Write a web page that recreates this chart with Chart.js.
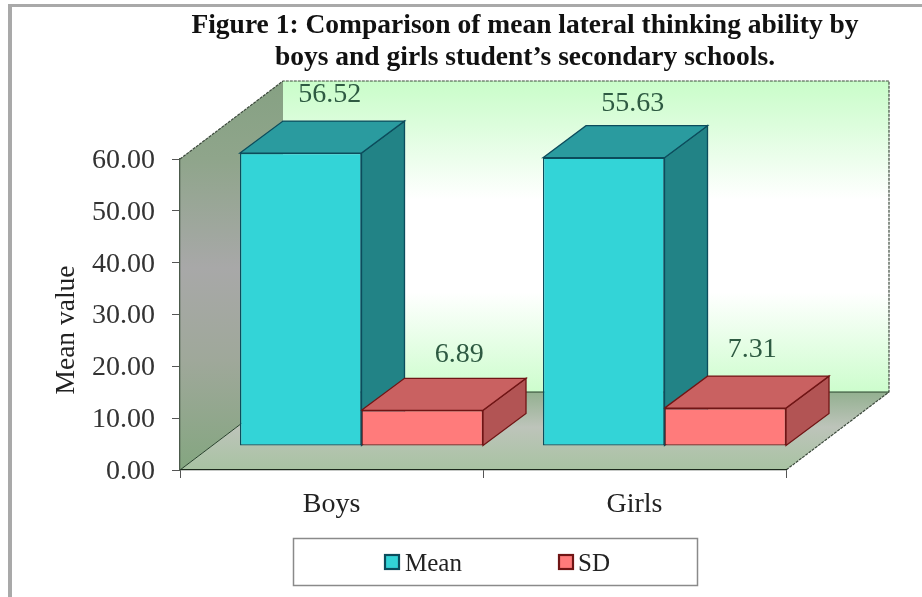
<!DOCTYPE html>
<html>
<head>
<meta charset="utf-8">
<style>
html,body{margin:0;padding:0;background:#fff;}
#wrap{position:absolute;left:0;top:0;width:922px;height:597px;}
canvas{filter:blur(0.5px);display:block;}
</style>
<script src="https://cdn.jsdelivr.net/npm/chart.js@4"></script>
</head>
<body>
<div id="wrap"><canvas id="c" width="922" height="597"></canvas></div>
<script>
const categories = ['Boys', 'Girls'];
const meanValues = [56.52, 55.63];
const sdValues = [6.89, 7.31];
const yTicks = [0, 10, 20, 30, 40, 50, 60];
const titleLines = ['Figure 1: Comparison of mean lateral thinking ability by', 'boys and girls student\u2019s secondary schools.'];
const yAxisTitle = 'Mean value';

const SERIF = '"Liberation Serif","Times New Roman",serif';
const FLOOR_DX = 103, FLOOR_DY = -78;   // depth of the walls
const BAR_SHIFT_X = 30, BAR_SHIFT_Y = -24; // bars stand inside the floor
const BAR_DX = 43, BAR_DY = -32;        // depth of each bar
const labelNudges = [[[29,-58],[29,-54]],[[37,-56],[27,-58]]];

const palette = [
  {front:'#33d4d7', top:'#2a9b9f', side:'#228386', line:'#0c4c5c'},
  {front:'#ff7b7b', top:'#c96161', side:'#b25454', line:'#701515'}
];

function poly(ctx, pts, fill, stroke, w, dash){
  ctx.beginPath();
  pts.forEach((p,i)=> i?ctx.lineTo(p[0],p[1]):ctx.moveTo(p[0],p[1]));
  ctx.closePath();
  if(fill){ctx.fillStyle=fill;ctx.fill();}
  if(stroke){ctx.strokeStyle=stroke;ctx.lineWidth=w||1;ctx.setLineDash(dash||[]);ctx.stroke();ctx.setLineDash([]);}
}

const scene3d = {
  id:'scene3d',
  beforeDraw(chart){
    const ctx=chart.ctx, a=chart.chartArea;
    const L=a.left,R=a.right,T=a.top,B=a.bottom;
    ctx.save();
    // picture frame
    ctx.fillStyle='#a9a9a9';
    ctx.fillRect(8,4,914,3);
    ctx.fillRect(8,4,4,593);
    // back wall
    let g=ctx.createLinearGradient(0,T+FLOOR_DY,0,B+FLOOR_DY);
    g.addColorStop(0,'#c9fdc9');g.addColorStop(0.14,'#dcfddc');g.addColorStop(0.38,'#ffffff');
    g.addColorStop(0.68,'#ffffff');g.addColorStop(1,'#cdfdcd');
    poly(ctx,[[L+FLOOR_DX,T+FLOOR_DY],[R+FLOOR_DX,T+FLOOR_DY],[R+FLOOR_DX,B+FLOOR_DY],[L+FLOOR_DX,B+FLOOR_DY]],g);
    // side wall
    g=ctx.createLinearGradient(0,T+FLOOR_DY,0,B);
    g.addColorStop(0,'#86a183');g.addColorStop(0.2,'#8fa58b');g.addColorStop(0.48,'#a8a8a8');
    g.addColorStop(0.72,'#9fa89a');g.addColorStop(1,'#84a680');
    poly(ctx,[[L,T],[L+FLOOR_DX,T+FLOOR_DY],[L+FLOOR_DX,B+FLOOR_DY],[L,B]],g);
    // floor
    let gf=ctx.createLinearGradient(0,B+FLOOR_DY,0,B);
    gf.addColorStop(0,'#93b090');gf.addColorStop(0.45,'#bdc4ba');gf.addColorStop(1,'#a8c3a2');
    poly(ctx,[[L,B],[R,B],[R+FLOOR_DX,B+FLOOR_DY],[L+FLOOR_DX,B+FLOOR_DY]],gf);
    // edges
    ctx.strokeStyle='#3d4a3d';ctx.lineWidth=1.2;ctx.setLineDash([3,1]);
    ctx.beginPath();
    ctx.moveTo(L,T);ctx.lineTo(L+FLOOR_DX,T+FLOOR_DY);ctx.lineTo(R+FLOOR_DX,T+FLOOR_DY);
    ctx.lineTo(R+FLOOR_DX,B+FLOOR_DY);ctx.lineTo(R,B);
    ctx.stroke();ctx.setLineDash([]);
    ctx.lineWidth=1;ctx.strokeStyle='#26402a';
    ctx.beginPath();
    ctx.moveTo(L,B);ctx.lineTo(L+FLOOR_DX,B+FLOOR_DY);ctx.lineTo(R+FLOOR_DX,B+FLOOR_DY);
    ctx.stroke();
    // title
    ctx.fillStyle='#111';ctx.textAlign='center';ctx.textBaseline='middle';
    ctx.font='bold 27.5px '+SERIF;
    ctx.fillText(titleLines[0],525,26);
    ctx.fillText(titleLines[1],525,58);
    // y axis title
    ctx.save();
    ctx.translate(67,330);ctx.rotate(-Math.PI/2);
    ctx.font='27.5px '+SERIF;ctx.fillStyle='#222';
    ctx.fillText(yAxisTitle,0,0);
    ctx.restore();
    ctx.restore();
  },
  beforeDatasetsDraw(chart){
    const ctx=chart.ctx;
    ctx.save();
    ctx.translate(BAR_SHIFT_X,BAR_SHIFT_Y);
    chart.data.labels.forEach((_,i)=>{
      chart.data.datasets.forEach((ds,d)=>{
        const el=chart.getDatasetMeta(d).data[i], c=palette[d];
        const l=el.x-el.width/2, r=el.x+el.width/2, t=el.y, b=el.base;
        poly(ctx,[[r,t],[r+BAR_DX,t+BAR_DY],[r+BAR_DX,b+BAR_DY],[r,b]],c.side,c.line,1.3);
        poly(ctx,[[l,t],[l+BAR_DX,t+BAR_DY],[r+BAR_DX,t+BAR_DY],[r,t]],c.top,c.line,1.3);
      });
    });
    // stays shifted for the library's own bars
  },
  afterDatasetsDraw(chart){
    const ctx=chart.ctx;
    ctx.restore();
    ctx.save();
    ctx.font='28px '+SERIF;ctx.fillStyle='#2e5a42';ctx.textAlign='center';ctx.textBaseline='middle';
    chart.data.datasets.forEach((ds,d)=>{
      chart.getDatasetMeta(d).data.forEach((el,i)=>{
        const n=labelNudges[d][i];
        ctx.fillText(ds.data[i].toFixed(2), el.x+BAR_SHIFT_X+n[0], el.y+BAR_SHIFT_Y+n[1]);
      });
    });
    // legend
    ctx.fillStyle='#fff';ctx.strokeStyle='#8a8a8a';ctx.lineWidth=1.5;
    ctx.fillRect(293.5,538.5,404,47);ctx.strokeRect(293.5,538.5,404,47);
    const items=[[385,405],[559,578]];
    ctx.font='25px '+SERIF;ctx.textAlign='left';
    chart.data.datasets.forEach((ds,d)=>{
      const c=palette[d];
      ctx.fillStyle=c.front;ctx.strokeStyle=c.line;ctx.lineWidth=2.2;
      ctx.fillRect(items[d][0],555,14,14);ctx.strokeRect(items[d][0],555,14,14);
      ctx.fillStyle='#222';
      ctx.fillText(ds.label,items[d][1],564);
    });
    ctx.restore();
  }
};

new Chart(document.getElementById('c'),{
  type:'bar',
  data:{
    labels:categories,
    datasets:[
      {label:'Mean',data:meanValues,backgroundColor:palette[0].front,borderColor:palette[0].line,borderWidth:1.3,borderSkipped:false,clip:false},
      {label:'SD',data:sdValues,backgroundColor:palette[1].front,borderColor:palette[1].line,borderWidth:1.3,borderSkipped:false,clip:false}
    ]
  },
  options:{
    responsive:false,
    animation:false,
    layout:{padding:{left:0,right:136,top:159,bottom:0}},
    datasets:{bar:{barPercentage:1,categoryPercentage:0.802}},
    plugins:{legend:{display:false},title:{display:false},tooltip:{enabled:false}},
    scales:{
      x:{
        afterFit(s){s.height=127;},
        grid:{drawOnChartArea:false,drawTicks:true,tickLength:8,color:'#555'},
        border:{color:'#1c2a1c',width:1.3},
        ticks:{color:'#222',font:{family:SERIF,size:28},padding:10,maxRotation:0}
      },
      y:{
        min:0,max:60,
        afterFit(s){s.width=180;},
        afterBuildTicks(s){s.ticks=yTicks.map(v=>({value:v}));},
        grid:{drawOnChartArea:false,drawTicks:true,tickLength:8,color:'#555'},
        border:{color:'#4c5a4c',width:1.3},
        ticks:{color:'#333',font:{family:SERIF,size:28},padding:17,labelOffset:1.5,callback:v=>Number(v).toFixed(2)}
      }
    }
  },
  plugins:[scene3d]
});
</script>
</body>
</html>
